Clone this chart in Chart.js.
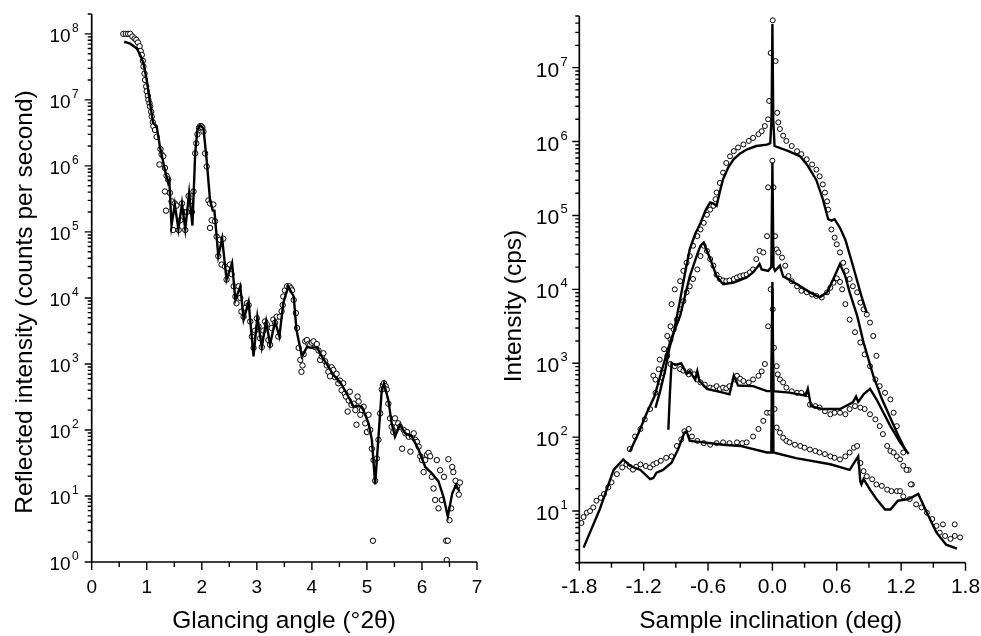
<!DOCTYPE html>
<html>
<head>
<meta charset="utf-8">
<script src="https://cdn.jsdelivr.net/npm/chart.js@4.4.1/dist/chart.umd.min.js"></script>
<style>
  html, body { margin: 0; padding: 0; background: #fff; }
  #wrap { position: relative; width: 981px; height: 636px; }
  #c1 { position: absolute; left: 0; top: 0; }
  #c2 { position: absolute; left: 490px; top: 0; }
</style>
</head>
<body>
<div id="wrap">
  <canvas id="c1" width="490" height="636"></canvas>
  <canvas id="c2" width="491" height="636"></canvas>
</div>
<script>
// ---------- left panel: reflectivity vs glancing angle ----------
const leftFitX = [0.59,0.70,0.82,0.88,0.94,1.00,1.06,1.115,1.15,1.18,1.24,1.33,1.39,1.41,1.45,1.51,1.575,1.64,1.70,1.77,1.83,1.88,1.92,1.97,2.03,2.09,2.15,2.20,2.23,2.30,2.37,2.45,2.55,2.61,2.70,2.76,2.85,2.94,3.01,3.09,3.17,3.24,3.33,3.41,3.48,3.57,3.67,3.72,3.82,3.91,4.00,4.09,4.18,4.30,4.39,4.51,4.63,4.76,4.85,4.91,5.03,5.09,5.15,5.21,5.27,5.31,5.39,5.45,5.51,5.60,5.70,5.82,5.94,6.06,6.18,6.30,6.39,6.47,6.55,6.62,6.68];
const leftFitY = [7.6e7,7.1e7,6.0e7,4.8e7,3.6e7,2.0e7,8.9e6,4.5e6,4.2e6,4.0e6,1.95e6,8.7e5,5.5e5,6.0e5,1.25e5,2.6e5,1.1e5,2.7e5,1.1e5,3.9e5,1.25e5,1.55e6,3.5e6,4.1e6,3.7e6,1.2e6,3.0e5,2.1e5,2.1e5,4.3e4,7.9e4,1.9e4,3.4e4,9.3e3,1.5e4,4.7e3,8.7e3,1.3e3,5.2e3,1.8e3,4.4e3,1.95e3,4.4e3,2.6e3,8.3e3,1.5e4,1.05e4,3.3e3,1.3e3,1.8e3,1.75e3,1.8e3,1.3e3,910,680,540,360,225,230,225,126,71,15,79,410,510,280,126,79,120,89,79,50,27.5,22,16.6,9.8,4.9,11,14.8,11.7];

const leftObsX = [0.575,0.62,0.66,0.70,0.74,0.78,0.81,0.84,0.87,0.89,0.91,0.93,0.94,0.96,0.97,0.99,1.00,1.02,1.03,1.05,1.06,1.08,1.09,1.11,1.12,1.15,1.18,1.23,1.25,1.27,1.30,1.33,1.36,1.39,1.33,1.35,1.42,1.45,1.48,1.51,1.54,1.58,1.61,1.64,1.67,1.70,1.73,1.76,1.79,1.82,1.85,1.88,1.90,1.92,1.95,1.97,1.99,2.01,2.03,2.06,2.09,2.12,2.15,2.18,2.15,2.21,2.24,2.27,2.30,2.33,2.36,2.39,2.42,2.45,2.48,2.51,2.54,2.58,2.61,2.63,2.67,2.70,2.72,2.76,2.79,2.82,2.85,2.88,2.91,2.94,2.97,3.00,3.03,3.06,3.09,3.12,3.15,3.18,3.21,3.24,3.27,3.30,3.33,3.36,3.39,3.42,3.45,3.47,3.48,3.51,3.55,3.59,3.62,3.64,3.67,3.71,3.73,3.76,3.79,3.81,3.83,3.85,3.88,3.91,3.94,3.97,4.00,4.03,4.06,4.09,4.12,4.15,4.18,4.21,4.24,4.27,4.30,4.33,4.36,4.39,4.42,4.45,4.48,4.51,4.54,4.57,4.60,4.62,4.65,4.67,4.69,4.72,4.76,4.79,4.81,4.83,4.85,4.88,4.91,4.94,4.97,5.00,5.03,5.06,5.09,5.12,5.15,5.18,5.21,5.24,5.27,5.29,5.31,5.34,5.36,5.39,5.42,5.45,5.48,5.51,5.54,5.57,5.60,5.64,5.67,5.70,5.73,5.76,5.79,5.82,5.85,5.88,5.91,5.94,5.97,6.00,6.03,6.06,6.09,6.12,6.15,6.18,6.21,6.24,6.27,6.30,6.33,6.36,6.40,6.44,6.47,6.48,6.50,6.53,6.55,6.57,6.61,6.64,6.67,6.69,5.11,6.45];
const leftObsY = [1.0e8,1.0e8,1.0e8,1.0e8,9.1e7,8.5e7,8.1e7,7.4e7,6.5e7,5.5e7,4.8e7,3.9e7,3.2e7,2.5e7,2.0e7,1.6e7,1.35e7,1.15e7,1.0e7,8.9e6,7.9e6,6.6e6,5.6e6,4.6e6,4.0e6,3.5e6,2.75e6,1.05e6,1.8e6,1.5e6,1.4e6,9.3e5,7.1e5,6.2e5,4.1e5,2.1e5,3.9e5,2.9e5,1.07e5,2.7e5,2.5e5,1.07e5,1.5e5,2.7e5,2.0e5,1.07e5,2.0e5,3.5e5,2.9e5,2.0e5,4.1e5,1.55e6,2.2e6,3.0e6,3.8e6,4.0e6,4.0e6,3.8e6,3.3e6,1.55e6,9.8e5,3.0e5,2.7e5,1.5e5,1.15e5,2.6e5,1.45e5,8.5e4,4.3e4,7.6e4,3.2e4,7.9e4,3.0e4,1.9e4,2.8e4,3.2e4,2.3e4,1.5e4,1.05e4,8.3e3,1.5e4,1.0e4,6.2e3,5.2e3,7.1e3,8.3e3,7.8e3,4.4e3,2.6e3,1.75e3,3.2e3,4.9e3,3.7e3,2.45e3,1.8e3,3.2e3,4.4e3,4.0e3,2.3e3,1.95e3,3.5e3,4.7e3,4.2e3,5.2e3,2.6e3,5.2e3,6.3e3,7.8e3,1.05e4,1.3e4,1.5e4,1.5e4,1.4e4,1.3e4,9.3e3,5.9e3,3.5e3,1.75e3,1.15e3,760,950,1.4e3,2.2e3,2.3e3,2.0e3,1.95e3,2.1e3,2.2e3,1.8e3,2.0e3,1.6e3,1.15e3,1.3e3,1.45e3,1.1e3,950,760,650,890,810,630,710,510,560,400,510,355,320,190,280,380,240,250,200,120,320,270,170,200,225,126,93,170,100,52,35,17,37,71,178,410,480,510,460,410,250,150,112,93,150,112,126,112,52,100,89,93,79,47,79,89,71,66,56,40,35,23,35,42,45,40,19.5,13,8.7,35,6.5,24.5,8.7,19.5,2.1,2.1,36,4.3,6.5,27.5,23,17,14,10.5,16,2.1,1.07];

const leftXTicks = [0,1,2,3,4,5,6,7];
const leftXLabels = ['0','1','2','3','4','5','6','7'];
const leftXMinor = [0.5,1.5,2.5,3.5,4.5,5.5,6.5];
const leftYTicks = [1,1e1,1e2,1e3,1e4,1e5,1e6,1e7,1e8];
const leftYExp = ['0','1','2','3','4','5','6','7','8'];

// ---------- right panel: rocking curves, four samples ----------
const rightFitAX = [-1.09,-1.05,-1.0,-0.96,-0.92,-0.86,-0.81,-0.77,-0.72,-0.67,-0.62,-0.58,-0.55,-0.52,-0.49,-0.46,-0.41,-0.36,-0.30,-0.24,-0.15,-0.05,-0.02,-0.008,0,0.008,0.02,0.15,0.26,0.33,0.41,0.47,0.52,0.55,0.58,0.63,0.68,0.75,0.83,0.88];
const rightFitAY = [250,400,800,1600,2600,7200,18000,35000,56000,79000,120000,150000,145000,135000,210000,310000,450000,580000,690000,780000,870000,910000,950000,2000000,39000000,2000000,870000,740000,630000,470000,300000,166000,89000,85000,89000,68000,47000,21000,8100,4800];
const rightFitBX = [-1.33,-1.25,-1.17,-1.10,-1.02,-0.95,-0.86,-0.77,-0.70,-0.67,-0.64,-0.61,-0.58,-0.52,-0.46,-0.36,-0.24,-0.18,-0.14,-0.12,-0.10,-0.04,-0.01,0,0.01,0.025,0.07,0.10,0.23,0.35,0.44,0.51,0.57,0.63,0.68,0.72,0.79,0.85,0.94,1.02,1.10,1.18,1.25];
const rightFitBY = [63,112,214,355,910,2000,4400,15000,30000,39000,43000,33000,26000,15000,11700,12300,14500,17000,20000,22000,18600,17800,20000,520000,20000,17800,21000,15000,11700,9100,7800,9100,14000,22000,15000,9100,4400,1900,680,330,182,100,63];
const rightFitCX = [-0.97,-0.955,-0.94,-0.90,-0.85,-0.80,-0.77,-0.72,-0.70,-0.68,-0.61,-0.46,-0.40,-0.36,-0.32,-0.18,-0.05,-0.01,0,0.01,0.16,0.31,0.33,0.36,0.47,0.63,0.75,0.78,0.80,0.85,0.91,0.97,1.10,1.19,1.27];
const rightFitCY = [126,400,1000,950,1000,720,780,600,780,575,450,400,380,680,500,490,420,420,12600,420,400,365,450,263,240,240,295,355,300,380,450,325,141,85,59];
const rightFitDX = [-1.76,-1.61,-1.48,-1.39,-1.33,-1.23,-1.14,-1.11,-1.08,-1.02,-0.94,-0.88,-0.82,-0.80,-0.77,-0.64,-0.46,-0.30,-0.05,-0.01,0,0.01,0.22,0.54,0.72,0.80,0.82,0.83,0.85,0.91,0.97,1.05,1.10,1.17,1.27,1.36,1.44,1.53,1.62,1.72];
const rightFitDY = [3.2,10.5,36,50,41,36,27,28,33,36,45,68,115,120,89,85,79,76,62,62,10000,62,52,43,36,55,25,23,27,19.5,14.5,10.5,10.5,13.8,14.5,17,9.5,5.1,3.5,3.1];

const rightObsAX = [-1.11,-1.09,-1.06,-1.05,-1.01,-0.98,-0.95,-0.94,-0.91,-0.86,-0.83,-0.80,-0.77,-0.74,-0.70,-0.67,-0.64,-0.61,-0.58,-0.55,-0.53,-0.52,-0.49,-0.46,-0.43,-0.395,-0.36,-0.32,-0.27,-0.22,-0.18,-0.13,-0.10,-0.07,-0.04,-0.03,-0.016,0.003,0.03,0.045,0.055,0.07,0.10,0.13,0.18,0.23,0.27,0.32,0.37,0.41,0.44,0.47,0.49,0.51,0.52,0.55,0.58,0.60,0.63,0.66,0.69,0.72,0.75,0.79,0.82,0.85,0.88,0.91,0.94,0.97,1.13,1.16,1.22,1.25,1.29];
const rightObsAY = [680,600,830,1120,1550,2340,3160,6300,10000,12900,17800,22900,28200,38900,52500,64600,79400,102000,120000,135000,166000,204000,275000,380000,513000,631000,741000,832000,912000,1020000,1120000,1260000,1380000,1620000,2000000,3550000,15800000,43700000,12300000,2450000,1820000,1480000,1200000,1020000,871000,741000,676000,575000,490000,417000,339000,263000,204000,155000,120000,64600,50100,40700,31600,22900,17800,13800,11000,9120,6610,5370,4570,3550,2340,1260,214,141,62,36,23];
const rightObsBX = [-1.33,-1.28,-1.23,-1.19,-1.14,-1.09,-1.05,-1.02,-0.98,-0.95,-0.92,-0.89,-0.86,-0.83,-0.80,-0.77,-0.74,-0.70,-0.67,-0.64,-0.61,-0.58,-0.55,-0.52,-0.49,-0.46,-0.43,-0.40,-0.36,-0.33,-0.30,-0.27,-0.24,-0.21,-0.18,-0.15,-0.12,-0.085,-0.05,-0.04,0,0.01,0.025,0.04,0.055,0.09,0.12,0.15,0.18,0.23,0.27,0.32,0.37,0.41,0.46,0.51,0.54,0.57,0.60,0.63,0.65,0.68,0.72,0.77,0.82,0.86,0.91,0.96,1.0,1.05,1.10];
const rightObsBY = [69,102,129,174,240,398,562,741,1260,2090,2880,3890,5370,6920,9120,11000,13800,18600,28200,38900,33100,25700,20900,15800,13800,13200,12900,13200,13800,14500,15100,15500,15800,17000,18600,25700,33100,31600,52500,240000,550000,240000,52500,34700,31600,26900,20900,15100,12900,11000,9550,9120,8510,8130,7760,9120,10500,12300,14100,12600,10000,6310,3890,2630,1910,1320,912,603,490,398,324];
const rightObsCX = [-0.95,-0.91,-0.86,-0.83,-0.78,-0.77,-0.73,-0.70,-0.67,-0.63,-0.58,-0.55,-0.52,-0.49,-0.46,-0.43,-0.40,-0.35,-0.33,-0.30,-0.27,-0.22,-0.18,-0.13,-0.10,-0.07,-0.04,-0.016,0.003,0.015,0.04,0.05,0.07,0.10,0.13,0.18,0.23,0.27,0.32,0.35,0.40,0.44,0.49,0.54,0.58,0.63,0.68,0.72,0.77,0.82,0.86,0.91,0.96,1.00,1.03,1.07,1.10,1.13,1.16,1.19,1.22,1.27];
const rightObsCY = [977,912,832,794,708,776,708,603,550,513,468,457,490,447,468,457,490,603,676,617,575,550,603,676,776,977,3160,10000,5370,1620,912,708,603,550,468,417,398,398,380,275,263,251,224,204,214,214,204,240,263,251,240,204,174,141,110,76,65,62,55,50,41,36];
const rightObsDX = [-1.78,-1.76,-1.73,-1.70,-1.67,-1.64,-1.60,-1.57,-1.53,-1.50,-1.45,-1.40,-1.36,-1.33,-1.30,-1.27,-1.23,-1.18,-1.14,-1.11,-1.08,-1.04,-0.99,-0.94,-0.89,-0.85,-0.82,-0.78,-0.75,-0.70,-0.64,-0.58,-0.52,-0.46,-0.40,-0.33,-0.28,-0.24,-0.18,-0.13,-0.085,-0.05,-0.02,0.02,0.04,0.07,0.10,0.13,0.16,0.21,0.26,0.30,0.35,0.40,0.44,0.49,0.54,0.58,0.63,0.68,0.72,0.76,0.79,0.82,0.85,0.88,0.93,0.97,1.02,1.07,1.11,1.16,1.19,1.22,1.28,1.30,1.34,1.39,1.44,1.49,1.53,1.56,1.59,1.61,1.66,1.70,1.70,1.75];
const rightObsDY = [6.9,8.3,9.5,10,11.2,13.8,15.1,17,20.9,24.5,31.6,38.9,42.7,39.8,36.3,39.8,42.7,40.7,38.9,42.7,44.7,47.9,52.5,55,76,93,120,129,102,89,83,79,83,85,83,85,83,85,102,129,166,214,214,240,135,115,98,89,85,79,76,72,68,65,62,59,55,52.5,50,55,62,72,76,44.7,34.7,29.5,26.9,22.9,21.9,19.5,18.6,18.6,18.6,15.8,14.5,22.9,12.3,11.2,9.5,7.8,6.3,5.1,6.6,4.6,4.2,4.6,6.6,4.4];

const rightXTicks = [-1.8,-1.2,-0.6,0,0.6,1.2,1.8];
const rightXLabels = ['-1.8','-1.2','-0.6','0.0','0.6','1.2','1.8'];
const rightXMinor = [-1.5,-0.9,-0.3,0.3,0.9,1.5];
const rightYTicks = [1e1,1e2,1e3,1e4,1e5,1e6,1e7];
const rightYExp = ['1','2','3','4','5','6','7'];

// minor log ticks (2..9 in every decade), clipped to the axis range
function logMinor(lo, hi) {
  const out = [];
  for (let e = -1; e <= 9; e++) {
    for (let m = 2; m <= 9; m++) {
      const v = m * Math.pow(10, e);
      if (v >= lo * 0.999 && v <= hi * 1.001) out.push(v);
    }
  }
  return out;
}

const FAM = '"Liberation Sans", Arial, Helvetica, sans-serif';

const axesDecor = {
  id: 'axesDecor',
  afterDraw(chart, args, o) {
    const ctx = chart.ctx, a = chart.chartArea;
    const xs = chart.scales.x, ys = chart.scales.y;
    ctx.save();
    ctx.strokeStyle = '#000';
    ctx.fillStyle = '#000';
    ctx.lineWidth = 1.7;
    ctx.beginPath();
    ctx.moveTo(a.left, a.top);
    ctx.lineTo(a.left, a.bottom);
    ctx.lineTo(a.right, a.bottom);
    ctx.stroke();

    ctx.lineWidth = 1.4;
    ctx.beginPath();
    o.xTicks.forEach(v => { const p = xs.getPixelForValue(v); ctx.moveTo(p, a.bottom); ctx.lineTo(p, a.bottom + 8); });
    o.xMinor.forEach(v => { const p = xs.getPixelForValue(v); ctx.moveTo(p, a.bottom); ctx.lineTo(p, a.bottom + 5); });
    o.yTicks.forEach(v => { const p = ys.getPixelForValue(v); ctx.moveTo(a.left, p); ctx.lineTo(a.left - 7, p); });
    o.yMinor.forEach(v => { const p = ys.getPixelForValue(v); ctx.moveTo(a.left, p); ctx.lineTo(a.left - 4, p); });
    ctx.stroke();

    // x tick labels
    ctx.textBaseline = 'alphabetic';
    ctx.textAlign = 'center';
    ctx.font = o.tickSize + 'px ' + FAM;
    o.xTicks.forEach((v, i) => ctx.fillText(o.xLabels[i], xs.getPixelForValue(v), 593));

    // y tick labels as 10 with superscript exponent
    ctx.textAlign = 'right';
    o.yTicks.forEach((v, i) => {
      const p = ys.getPixelForValue(v);
      const ex = a.left - o.expGap;
      ctx.font = o.expSize + 'px ' + FAM;
      ctx.fillText(o.yExp[i], ex, p - 2);
      const w = ctx.measureText(o.yExp[i]).width;
      ctx.font = o.tickSize + 'px ' + FAM;
      ctx.fillText('10', ex - w - 1.5, p + o.baseShift);
    });

    // axis titles
    ctx.textAlign = 'center';
    ctx.font = '24.5px ' + FAM;
    ctx.fillText(o.xTitle, o.xTitleX, 628);
    ctx.translate(o.yTitleX, o.yTitleY);
    ctx.rotate(-Math.PI / 2);
    ctx.fillText(o.yTitle, 0, 0);
    ctx.restore();
  }
};

function pts(xs, ys) {
  return xs.map((x, i) => ({ x: x, y: ys[i] }));
}
function fitSet(xs, ys) {
  return { data: pts(xs, ys), showLine: true, borderColor: '#000', borderWidth: 2.4,
           pointRadius: 0, tension: 0, fill: false, order: 0 };
}
function obsSet(xs, ys, r) {
  return { data: pts(xs, ys), showLine: false, pointRadius: r, pointBorderWidth: 1,
           pointBorderColor: '#000', pointBackgroundColor: '#fff', order: 1 };
}

function makeChart(id, datasets, xMin, xMax, yMin, yMax, pad, decor) {
  return new Chart(document.getElementById(id), {
    type: 'scatter',
    data: { datasets: datasets },
    options: {
      responsive: false,
      animation: false,
      events: [],
      layout: { padding: pad },
      plugins: { legend: { display: false }, tooltip: { enabled: false }, axesDecor: decor },
      scales: {
        x: { type: 'linear', min: xMin, max: xMax,
             grid: { display: false }, border: { display: false }, ticks: { display: false },
             afterFit: s => { s.height = 0; } },
        y: { type: 'logarithmic', min: yMin, max: yMax,
             grid: { display: false }, border: { display: false }, ticks: { display: false },
             afterFit: s => { s.width = 0; } }
      }
    },
    plugins: [axesDecor]
  });
}

makeChart('c1',
  [fitSet(leftFitX, leftFitY), obsSet(leftObsX, leftObsY, 2.7)],
  0, 7, 1, 2e8,
  { left: 91.7, top: 14, right: 13, bottom: 74 },
  { xTicks: leftXTicks, xLabels: leftXLabels, xMinor: leftXMinor,
    yTicks: leftYTicks, yExp: leftYExp, yMinor: logMinor(1, 2e8),
    tickSize: 19, expSize: 12, expGap: 13, baseShift: 8,
    xTitle: 'Glancing angle (\u00B02\u03B8)', xTitleX: 284,
    yTitle: 'Reflected intensity (counts per second)', yTitleX: 31.5, yTitleY: 302 });

makeChart('c2',
  [fitSet(rightFitAX, rightFitAY), fitSet(rightFitBX, rightFitBY), fitSet(rightFitCX, rightFitCY), fitSet(rightFitDX, rightFitDY),
   obsSet(rightObsAX, rightObsAY, 2.5), obsSet(rightObsBX, rightObsBY, 2.5), obsSet(rightObsCX, rightObsCY, 2.5), obsSet(rightObsDX, rightObsDY, 2.5)],
  -1.8, 1.8, 2, 5e7,
  { left: 89.3, top: 16, right: 15.5, bottom: 73.3 },
  { xTicks: rightXTicks, xLabels: rightXLabels, xMinor: rightXMinor,
    yTicks: rightYTicks, yExp: rightYExp, yMinor: logMinor(2, 5e7),
    tickSize: 21, expSize: 13, expGap: 11.5, baseShift: 9,
    xTitle: 'Sample inclination (deg)', xTitleX: 280.7,
    yTitle: 'Intensity (cps)', yTitleX: 30.7, yTitleY: 306 });
</script>
</body>
</html>
